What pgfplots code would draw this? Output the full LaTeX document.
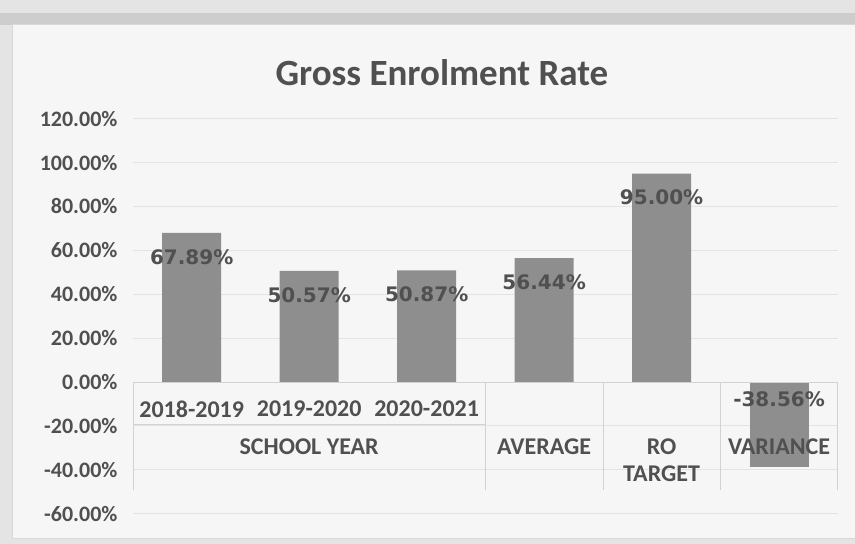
\documentclass[border=0pt]{standalone}
\usepackage{fontspec}
\setmainfont{Carlito}
\newfontfamily\lblfont{DejaVu Sans}
\usepackage{pgfplots}
\pgfplotsset{compat=1.18}
\definecolor{txt}{HTML}{505050}
\definecolor{barc}{HTML}{8E8E8E}
\definecolor{bg}{HTML}{F6F6F6}
\definecolor{frame}{HTML}{E4E4E4}
\definecolor{band}{HTML}{CDCDCD}
\begin{document}
\begin{tikzpicture}[x=1pt,y=1pt]
\fill[frame] (0,0) rectangle (855,544);
\fill[band] (0,519) rectangle (855,531);
\fill[bg] (12,6) rectangle (855,520);
\draw[gray!30] (12,6) rectangle (855,520);
\useasboundingbox (0,0) rectangle (855,544);
\node[font=\fontsize{37}{37}\selectfont\bfseries, text=txt] at (442,471) {Gross Enrolment Rate};
\begin{axis}[
  at={(133pt,30.3pt)}, anchor=south west,
  scale only axis, width=705pt, height=395pt,
  xmin=-0.5, xmax=5.5, ymin=-60, ymax=120,
  ytick={-60,-40,...,120}, xtick=\empty,
  axis line style={draw=none},
  ymajorgrids, grid style={gray!22, line width=0.7pt},
  major tick length=0pt,
  /pgf/number format/assume math mode=true,
  yticklabel style={font=\fontsize{22}{22}\selectfont\bfseries, text=txt, xshift=-12pt},
  yticklabel={\pgfmathprintnumber[fixed,fixed zerofill,precision=2]{\tick}\%},
  ybar, bar width=59pt,
  clip=false,
  nodes near coords={\pgfmathprintnumber[fixed,fixed zerofill,precision=2]{\pgfplotspointmeta}\%},
]
\addplot[fill=barc, draw=none, bar shift=0pt,
  every node near coord/.append style={anchor=center, yshift=-24pt, font=\lblfont\fontsize{20}{20}\selectfont\bfseries, text=txt}]
  coordinates {(0,67.89) (1,50.57) (2,50.87) (3,56.44) (4,95.00)};
\addplot[fill=barc, draw=none, bar shift=0pt,
  every node near coord/.append style={anchor=center, yshift=67pt, font=\lblfont\fontsize{20}{20}\selectfont\bfseries, text=txt}]
  coordinates {(5,-38.56)};
\draw[gray!35, line width=0.7pt] (axis cs:-0.5,0) -- (axis cs:5.5,0);
\draw[gray!35, line width=0.7pt] (axis cs:-0.5,0) -- (axis cs:-0.5,-49.2);
\draw[gray!35, line width=0.7pt] (axis cs:2.5,0) -- (axis cs:2.5,-49.2);
\draw[gray!35, line width=0.7pt] (axis cs:3.5,0) -- (axis cs:3.5,-49.2);
\draw[gray!35, line width=0.7pt] (axis cs:4.5,0) -- (axis cs:4.5,-49.2);
\draw[gray!35, line width=0.7pt] (axis cs:5.5,0) -- (axis cs:5.5,-49.2);
\draw[gray!35, line width=0.7pt] (axis cs:-0.5,-19.5) -- (axis cs:2.5,-19.5);
\node[font=\fontsize{24}{24}\selectfont\bfseries, text=txt] at (axis cs:0,-12.3) {2018-2019};
\node[font=\fontsize{24}{24}\selectfont\bfseries, text=txt] at (axis cs:1,-12.3) {2019-2020};
\node[font=\fontsize{24}{24}\selectfont\bfseries, text=txt] at (axis cs:2,-12.3) {2020-2021};
\node[font=\fontsize{24}{24}\selectfont\bfseries, text=txt] at (axis cs:1,-29.6) {SCHOOL YEAR};
\node[font=\fontsize{24}{24}\selectfont\bfseries, text=txt] at (axis cs:3,-29.6) {AVERAGE};
\node[font=\fontsize{24}{24}\selectfont\bfseries, text=txt] at (axis cs:4,-29.6) {RO};
\node[font=\fontsize{24}{24}\selectfont\bfseries, text=txt] at (axis cs:4,-41.9) {TARGET};
\node[font=\fontsize{24}{24}\selectfont\bfseries, text=txt] at (axis cs:5,-29.6) {VARIANCE};
\end{axis}
\end{tikzpicture}
\end{document}
